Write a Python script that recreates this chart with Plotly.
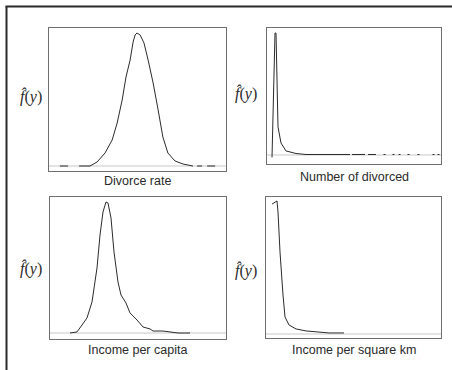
import plotly.graph_objects as go

# ---- data (densities normalised to peak = 1) ----
# Divorce rate (per 1000)
div_rate_x = [0.37, 0.64, None, 1.02, 1.39, 1.63, 1.90, 2.14, 2.31, 2.48, 2.61, 2.75, 2.85, 2.92,
              2.98, 3.09, 3.22, 3.36, 3.53, 3.70, 3.86, 4.03, 4.27, 4.54, 4.88, None, 5.02, 5.19,
              None, 5.36, 5.63]
div_rate_y = [0, 0, None, 0, 0, 0.030, 0.098, 0.195, 0.323, 0.496, 0.669, 0.797, 0.932, 0.985,
              1.0, 0.985, 0.925, 0.797, 0.624, 0.421, 0.218, 0.098, 0.038, 0.015, 0, None, 0, 0,
              None, 0, 0]

# Number of divorced
num_div_x = [100, 140, 160, 180, 200, 220, 280, 380, 580, 780, 1660, None, 1700, 1960, None,
             2020, 2180, None, 2330, 2370, None, 2510, 2550, None, 2630, 2670, None,
             2810, 2850, None, 3010, 3050, None, 3310, 3350, None, 3410, 3450]
num_div_y = [-0.02, 0.78, 1.0, 1.0, 0.451, 0.23, 0.098, 0.033, 0.012, 0.004, 0.004, None, 0.004,
             0.004, None, 0.004, 0.004, None, 0.004, 0.004, None, 0.004, 0.004, None, 0.004,
             0.004, None, 0.004, 0.004, None, 0.004, 0.004, None, 0.004, 0.004, None, 0.004, 0.004]

# Income per capita (thousands)
inc_cap_x = [4.0, 5.4, 6.4, 7.4, 8.4, 9.4, 10.0, 10.6, 11.2, 11.6, 12.2, 12.8, 13.6, 14.2, 15.2,
             16.0, 17.4, 18.6, 20.0, 20.6, 21.6, 22.6, 24.0, 25.6, 28.0]
inc_cap_y = [0, 0.008, 0.061, 0.115, 0.237, 0.496, 0.748, 0.924, 1.0, 0.992, 0.878, 0.618, 0.389,
             0.290, 0.229, 0.153, 0.099, 0.046, 0.031, 0.015, 0.015, 0.015, 0.008, 0, 0]

# Income per square km
inc_km_x = [60, 110, 120, 140, 170, 190, 230, 300, 400, 520, 630, 780]
inc_km_y = [0.977, 1.0, 0.917, 0.617, 0.293, 0.128, 0.068, 0.038, 0.023, 0.015, 0.008, 0.008]

titles = ["Divorce rate", "Number of divorced", "Income per capita", "Income per square km"]

W, H = 452, 370
panels = [
    # (x, y, x-range, y-range, domain px (l, r, t, b))
    (div_rate_x, div_rate_y, [0, 6.0], [-0.0376, 1.0376], (49, 226, 28, 171)),
    (num_div_x, num_div_y, [0, 3480], [-0.074, 1.041], (267, 441, 28, 164)),
    (inc_cap_x, inc_cap_y, [0, 35.2], [-0.0458, 1.038], (50, 226, 197, 339)),
    (inc_km_x, inc_km_y, [0, 1750], [-0.030, 1.030], (266, 441, 197, 338)),
]
title_pos = [(137, 181), (354, 177), (137, 350), (354, 350)]
ylab_pos = [(31, 96), (246, 93), (31, 268), (246, 270)]

fig = go.Figure()
layout = dict(width=W, height=H, margin=dict(l=0, r=0, t=0, b=0),
              paper_bgcolor="white", plot_bgcolor="white", showlegend=False)
shapes = []
annotations = []
for i, (xs, ys, xr, yr, (l, r, t, b)) in enumerate(panels):
    n = "" if i == 0 else str(i + 1)
    fig.add_trace(go.Scatter(x=xs, y=ys, mode="lines", xaxis="x" + n, yaxis="y" + n,
                             line=dict(color="#2b2b2b", width=1), connectgaps=False,
                             hoverinfo="skip"))
    axstyle = dict(showgrid=False, zeroline=False, showticklabels=False, ticks="",
                   showline=True, mirror=True, linecolor="#6e6e6e", linewidth=1, fixedrange=True)
    layout["xaxis" + n] = dict(domain=[l / W, r / W], range=xr, anchor="y" + n, **axstyle)
    layout["yaxis" + n] = dict(domain=[1 - b / H, 1 - t / H], range=yr, anchor="x" + n, **axstyle)
    shapes.append(dict(type="line", xref=("x" + n) + " domain", yref="y" + n, x0=0, x1=1,
                       y0=0, y1=0, line=dict(color="#c8c8c8", width=1), layer="below"))
    tx, ty = title_pos[i]
    annotations.append(dict(text=titles[i], x=tx / W, y=1 - ty / H, xref="paper", yref="paper",
                            showarrow=False, xanchor="center", yanchor="middle",
                            font=dict(family="Liberation Sans, Arial, sans-serif", size=12.5,
                                      color="#2a2a2a")))
    lx, ly = ylab_pos[i]
    annotations.append(dict(text="<i>f\u0302</i>(<i>y</i>)", x=lx / W, y=1 - ly / H,
                            xref="paper", yref="paper", showarrow=False,
                            xanchor="center", yanchor="middle",
                            font=dict(family="Liberation Serif, Times New Roman, serif", size=16,
                                      color="#2a2a2a")))

# outer frame (left and top edges)
shapes.append(dict(type="line", xref="paper", yref="paper", x0=6.5 / W, x1=6.5 / W,
                   y0=0, y1=1 - 6.5 / H, line=dict(color="#2a2a2a", width=2)))
shapes.append(dict(type="line", xref="paper", yref="paper", x0=5.5 / W, x1=1,
                   y0=1 - 6.5 / H, y1=1 - 6.5 / H, line=dict(color="#2a2a2a", width=2)))

layout["shapes"] = shapes
layout["annotations"] = annotations
fig.update_layout(**layout)
fig.write_html("out.html", config={"displayModeBar": False},
               post_script="document.body.style.margin='0';document.body.style.overflow='hidden';")
